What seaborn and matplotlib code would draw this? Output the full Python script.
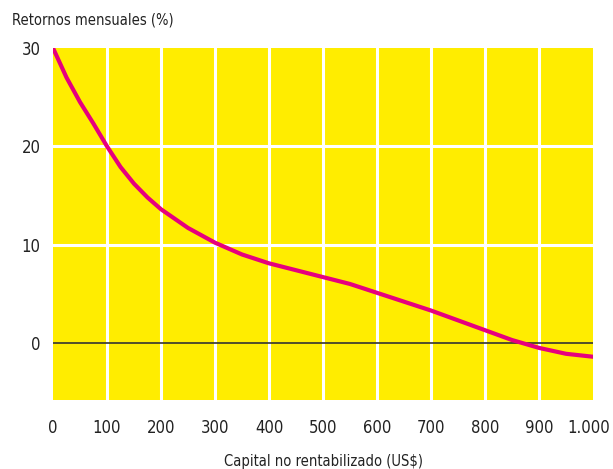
import matplotlib
matplotlib.use("Agg")
import matplotlib.pyplot as plt
import matplotlib.transforms as mtransforms
from matplotlib import font_manager as fm
import seaborn as sns
import pandas as pd

# Datos
capital = [0, 25, 50, 75, 100, 125, 150, 175, 200, 250, 300, 350, 400, 450, 500,
           550, 600, 650, 700, 750, 800, 850, 900, 950, 1000]
retornos = [30.0, 27.0, 24.5, 22.3, 20.0, 17.9, 16.2, 14.8, 13.6, 11.7, 10.2, 9.0,
            8.1, 7.4, 6.7, 6.0, 5.1, 4.2, 3.3, 2.3, 1.3, 0.3, -0.5, -1.1, -1.4]
x_ticks = [0, 100, 200, 300, 400, 500, 600, 700, 800, 900, 1000]
x_labels = ["0", "100", "200", "300", "400", "500", "600", "700", "800", "900", "1.000"]
y_ticks = [0, 10, 20, 30]

sns.set_style("white")

# buscar una fuente condensada si hay alguna
cond = [f for f in fm.fontManager.ttflist
        if ('ondensed' in f.fname or 'arrow' in f.fname)
        and f.weight in (400, 'normal', 'regular') and f.style == 'normal']
if cond:
    plt.rcParams['font.family'] = [cond[0].name, 'DejaVu Sans']
    plt.rcParams['font.stretch'] = cond[0].stretch
    fsize = 12
else:
    plt.rcParams['font.family'] = ['Roboto', 'DejaVu Sans']
    fsize = 10.5

df = pd.DataFrame({'capital': capital, 'retorno': retornos})

fig = plt.figure(figsize=(6.13, 4.69), dpi=100)
ax = fig.add_axes([53 / 613, 1 - 400 / 469, 540 / 613, 352 / 469])
ax.set_facecolor('#FFED00')

# rejilla blanca
for xv in x_ticks[1:-1]:
    ax.axvline(xv, color='white', lw=2.2, zorder=1)
for yv in [10, 20]:
    ax.axhline(yv, color='white', lw=2.2, zorder=1)
ax.axhline(0, color='#333333', lw=1.2, zorder=2)

sns.lineplot(data=df, x='capital', y='retorno', color='#E6007E', lw=3,
             ax=ax, zorder=3)

ax.set_xlim(0, 1000)
ax.set_ylim(-5.8, 30)
ax.set_xticks(x_ticks)
ax.set_xticklabels(x_labels)
ax.set_yticks(y_ticks)
ax.tick_params(axis='both', length=0, labelsize=fsize, colors='#222222')
ax.tick_params(axis='x', pad=14)
ax.tick_params(axis='y', pad=9)
for s in ax.spines.values():
    s.set_visible(False)

# mover un poco "1.000" para que no se corte
last = ax.get_xticklabels()[-1]
last.set_transform(last.get_transform() +
                   mtransforms.ScaledTranslation(-4 / 100, 0, fig.dpi_scale_trans))

ax.set_xlabel('Capital no rentabilizado (US$)', fontsize=fsize - 1.5,
              color='#222222', labelpad=12)
ax.set_ylabel('')
fig.text(12 / 613, 1 - 20 / 469, 'Retornos mensuales (%)', fontsize=fsize - 1.5,
         color='#222222', va='center', ha='left')

plt.savefig('out.png', dpi=100)
plt.close()
